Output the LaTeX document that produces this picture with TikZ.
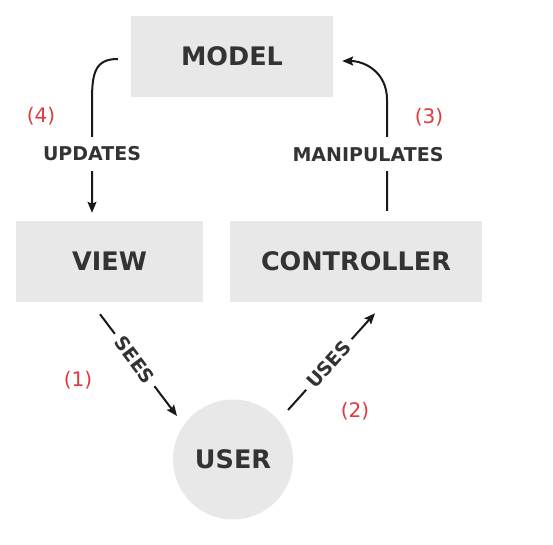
\documentclass[tikz,border=0pt]{standalone}
\usepackage{fontspec}
\setmainfont{DejaVu Sans}
\usetikzlibrary{arrows.meta}
\definecolor{boxgrey}{HTML}{E8E8E8}
\definecolor{txt}{HTML}{333333}
\definecolor{redlbl}{HTML}{E0393E}
\begin{document}
\begin{tikzpicture}[x=1pt,y=-1pt,
  box/.style={fill=boxgrey, draw=none, minimum height=81pt, inner sep=0pt, text=txt,
    font=\bfseries\fontsize{25.5}{30}\selectfont},
  lbl/.style={fill=white, text=txt, inner xsep=6pt, inner ysep=10pt,
    font=\bfseries\fontsize{19}{22}\selectfont},
  arr/.style={line width=2pt, draw=black!90, -{Stealth[length=11pt,width=9pt,inset=2pt]}},
  num/.style={text=redlbl, font=\fontsize{20}{22}\selectfont}]
\useasboundingbox (0,0) rectangle (553,544);
\node[box, minimum width=202pt] (model) at (232,56.5) {MODEL};
\node[box, minimum width=187pt] (view) at (109.5,261.5) {VIEW};
\node[box, minimum width=252pt] (ctrl) at (356,261.5) {CONTROLLER};
\node[circle, fill=boxgrey, minimum size=120pt, inner sep=0pt, text=txt,
  font=\bfseries\fontsize{25.5}{30}\selectfont] (user) at (233,459.5) {USER};

\draw[arr] ([xshift=-13pt,yshift=-2.5pt]model.west)
  .. controls +(-22pt,0pt) and +(0pt,28pt) .. ([xshift=-17.5pt,yshift=121pt]view.north)
  -- node[lbl,pos=0.48]{UPDATES} ([xshift=-17.5pt,yshift=8pt]view.north);

\draw[arr] ([xshift=31pt,yshift=10pt]ctrl.north)
  -- node[lbl,pos=0.51,xshift=-19pt]{MANIPULATES} ([xshift=31pt,yshift=121pt]ctrl.north)
  .. controls +(0pt,28pt) and +(22pt,0pt) .. ([xshift=9pt,yshift=-4.5pt]model.east);

\draw[arr] ([xshift=-9.5pt,yshift=-12pt]view.south)
  -- node[lbl,sloped,pos=0.45]{SEES} ([xshift=-56pt,yshift=43.5pt]user.center);

\draw[arr] ([xshift=55pt,yshift=49.5pt]user.center)
  -- node[lbl,sloped,pos=0.47]{USES} ([xshift=19pt,yshift=-11pt]ctrl.south);

\node[num] (n4) at (41,116) {(4)};
\node[num] (n3) at (429,117) {(3)};
\node[num] (n1) at (78,380) {(1)};
\node[num] (n2) at (355,411) {(2)};
\end{tikzpicture}
\end{document}
